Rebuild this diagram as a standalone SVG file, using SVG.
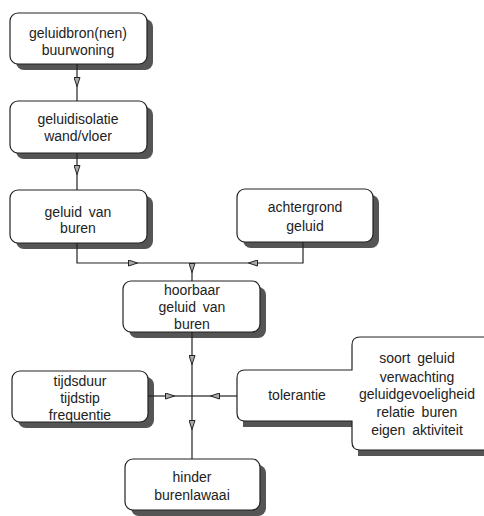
<svg xmlns="http://www.w3.org/2000/svg" width="484" height="516" viewBox="0 0 484 516">
<style>
.box{fill:#fff;stroke:#222;stroke-width:1.2}
.sh{fill:#555}
.t{font-family:"Liberation Sans",Arial,sans-serif;font-size:14px;fill:#222;text-anchor:middle;word-spacing:3px}
.c{fill:none;stroke:#222;stroke-width:1.2}
</style>
<defs>
<marker id="ah" viewBox="0 0 10 7" refX="10" refY="3.5" markerWidth="11" markerHeight="7" markerUnits="userSpaceOnUse" orient="auto">
<path d="M0.5,0.5 L9.5,3.5 L0.5,6.5 Z" fill="#aaa" stroke="#222" stroke-width="1"/>
</marker>
</defs>
<rect width="484" height="516" fill="#fff"/>
<g id="n1">
<rect class="sh" x="16" y="19" width="137" height="51" rx="8"/>
<rect class="box" x="10" y="13" width="137" height="51" rx="8"/>
<text class="t" x="78" y="38">geluidbron(nen)</text>
<text class="t" x="78" y="55">buurwoning</text>
</g>
<g id="n2">
<rect class="sh" x="16" y="107" width="137" height="52" rx="8"/>
<rect class="box" x="10" y="101" width="137" height="52" rx="8"/>
<text class="t" x="78" y="124">geluidisolatie</text>
<text class="t" x="78" y="141">wand/vloer</text>
</g>
<g id="n3">
<rect class="sh" x="16" y="196" width="137" height="53" rx="8"/>
<rect class="box" x="10" y="190" width="137" height="53" rx="8"/>
<text class="t" x="78" y="217">geluid van</text>
<text class="t" x="78" y="233">buren</text>
</g>
<g id="n4">
<rect class="sh" x="243" y="195" width="136" height="53" rx="8"/>
<rect class="box" x="237" y="189" width="136" height="53" rx="8"/>
<text class="t" x="305" y="212">achtergrond</text>
<text class="t" x="305" y="231">geluid</text>
</g>
<g id="n5">
<rect class="sh" x="129" y="287" width="137" height="51" rx="8"/>
<rect class="box" x="123" y="281" width="137" height="51" rx="8"/>
<text class="t" x="192" y="295">hoorbaar</text>
<text class="t" x="192" y="312">geluid van</text>
<text class="t" x="192" y="329">buren</text>
</g>
<g id="n6">
<rect class="sh" x="18" y="377" width="136" height="51" rx="8"/>
<rect class="box" x="12" y="371" width="136" height="51" rx="8"/>
<text class="t" x="80" y="386">tijdsduur</text>
<text class="t" x="80" y="403">tijdstip</text>
<text class="t" x="80" y="420">frequentie</text>
</g>
<g id="n7">
<path class="sh" d="M243,427 V380 H358 V456 H490 V343 H358 V427 Z"/>
<path class="box" d="M245,370 H352 V345 Q352,337 360,337 H495 V450 H360 Q352,450 352,442 V421 H245 Q237,421 237,413 V378 Q237,370 245,370 Z"/>
<text class="t" x="297" y="400">tolerantie</text>
<text class="t" x="417" y="363">soort geluid</text>
<text class="t" x="417" y="382">verwachting</text>
<text class="t" x="417" y="399">geluidgevoeligheid</text>
<text class="t" x="417" y="417">relatie buren</text>
<text class="t" x="417" y="435">eigen aktiviteit</text>
</g>
<g id="n8">
<rect class="sh" x="131" y="465" width="135" height="51" rx="8"/>
<rect class="box" x="125" y="459" width="135" height="51" rx="8"/>
<text class="t" x="192" y="482">hinder</text>
<text class="t" x="192" y="500">burenlawaai</text>
</g>
<g id="connectors">
<path class="c" d="M77,64 V87" marker-end="url(#ah)"/>
<path class="c" d="M77,87 V101"/>
<path class="c" d="M77,153 V175" marker-end="url(#ah)"/>
<path class="c" d="M77,175 V190"/>
<path class="c" d="M77,243 V263 H138" marker-end="url(#ah)"/>
<path class="c" d="M138,263 H192"/>
<path class="c" d="M303,242 V263 H248" marker-end="url(#ah)"/>
<path class="c" d="M248,263 H192"/>
<path class="c" d="M192,263 V273" marker-end="url(#ah)"/>
<path class="c" d="M192,273 V281"/>
<path class="c" d="M192,332 V365" marker-end="url(#ah)"/>
<path class="c" d="M192,365 V430" marker-end="url(#ah)"/>
<path class="c" d="M192,430 V459"/>
<path class="c" d="M148,396 H175" marker-end="url(#ah)"/>
<path class="c" d="M175,396 H192"/>
<path class="c" d="M237,396 H210" marker-end="url(#ah)"/>
<path class="c" d="M210,396 H192"/>
</g>
</svg>
